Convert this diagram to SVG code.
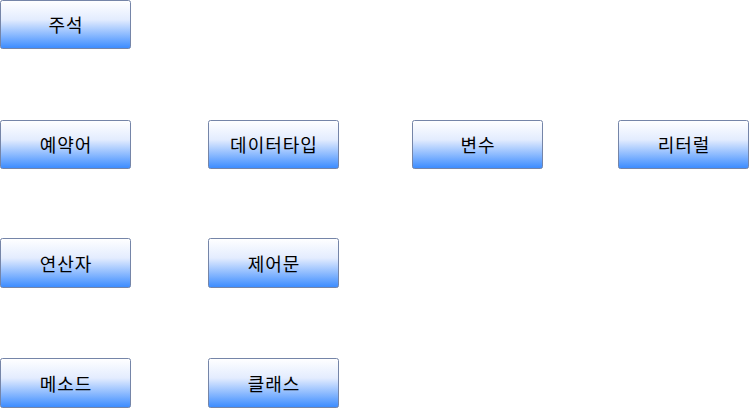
<svg xmlns="http://www.w3.org/2000/svg" width="749" height="409" viewBox="0 0 749 409">
<defs>
<linearGradient id="g" x1="0" y1="0" x2="0" y2="1">
<stop offset="0" stop-color="#ffffff"/>
<stop offset="0.4" stop-color="#e3ecfe"/>
<stop offset="1" stop-color="#3a8bff"/>
</linearGradient>
<style>
.b{fill:url(#g);stroke:#7585a8;stroke-width:1}
.t{font-family:"Noto Sans CJK KR","Noto Sans",sans-serif;font-size:18px;letter-spacing:1px;fill:#000;text-anchor:middle;dominant-baseline:central}
</style>
</defs>
<g id="connectors"/>
<g id="n1"><rect class="b" x="0.5" y="0.5" width="130" height="48" rx="2"/><text class="t" x="66" y="24">주석</text></g>
<g id="n2"><rect class="b" x="0.5" y="120.5" width="130" height="48" rx="2"/><text class="t" x="66" y="144">예약어</text></g>
<g id="n3"><rect class="b" x="208.5" y="120.5" width="130" height="48" rx="2"/><text class="t" x="274" y="144">데이터타입</text></g>
<g id="n4"><rect class="b" x="412.5" y="120.5" width="130" height="48" rx="2"/><text class="t" x="478" y="144">변수</text></g>
<g id="n5"><rect class="b" x="618.5" y="120.5" width="130" height="48" rx="2"/><text class="t" x="684" y="144">리터럴</text></g>
<g id="n6"><rect class="b" x="0.5" y="238.5" width="130" height="49" rx="2"/><text class="t" x="66" y="263">연산자</text></g>
<g id="n7"><rect class="b" x="208.5" y="238.5" width="130" height="49" rx="2"/><text class="t" x="274" y="263">제어문</text></g>
<g id="n8"><rect class="b" x="0.5" y="358.5" width="130" height="49" rx="2"/><text class="t" x="66" y="383">메소드</text></g>
<g id="n9"><rect class="b" x="208.5" y="358.5" width="130" height="49" rx="2"/><text class="t" x="274" y="383">클래스</text></g>
</svg>
